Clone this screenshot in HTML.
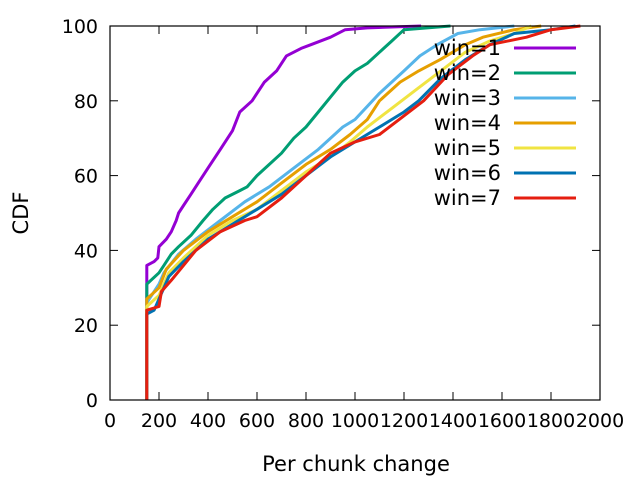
<!DOCTYPE html>
<html><head><meta charset="utf-8"><style>
body{margin:0;background:#fff}
svg{display:block;font-family:"DejaVu Sans","Liberation Sans",sans-serif}
</style></head><body>
<svg id="chart" width="640" height="480"></svg>
<script>
const xTicks=[0,200,400,600,800,1000,1200,1400,1600,1800,2000];
const yTicks=[0,20,40,60,80,100];
const seriesNames=["win=1","win=2","win=3","win=4","win=5","win=6","win=7"];
const colors=["#9400d3","#009e73","#56b4e9","#e69f00","#f0e442","#0072b2","#e51e10"];
const win1X=[150,150,180,195,200,230,250,270,280,300,330,360,400,450,500,530,580,600,630,680,720,780,820,900,960,1050,1270];
const win1Y=[0,36,37,38,41,43,45,48,50,52,55,58,62,67,72,77,80,82,85,88,92,94,95,97,99,99.5,100];
const win2X=[150,150,200,220,250,280,330,380,420,470,530,560,600,650,700,750,800,850,900,950,1000,1050,1100,1150,1200,1390];
const win2Y=[0,31,34,36,39,41,44,48,51,54,56,57,60,63,66,70,73,77,81,85,88,90,93,96,99,100];
const win3X=[150,150,200,220,280,350,450,550,650,750,850,950,1000,1100,1200,1265,1335,1420,1510,1650];
const win3Y=[0,26,31,34,39,43,48,53,57,62,67,73,75,82,88,92,95,98,99,100];
const win4X=[150,150,200,230,300,400,500,600,700,800,900,980,1050,1100,1184,1260,1347,1450,1522,1650,1760];
const win4Y=[0,27,30,35,40,45,49,53,58,63,67,71,75,80,85,88,91,95,97,99,100];
const win5X=[150,150,200,240,300,400,500,600,700,800,900,980,1050,1150,1250,1350,1450,1550,1650,1720];
const win5Y=[0,25,28,34,38,44,48,51,56,61,65,69,73,78,83,88,93,96,98,100];
const win6X=[150,150,180,200,240,300,400,500,600,700,800,900,1000,1100,1200,1260,1350,1450,1550,1650,1800,1900];
const win6Y=[0,23,24,27,33,37,43,47,51,55,60,65,69,73,77,80,86,91,95,98,99,100];
const win7X=[150,150,200,210,250,300,350,450,550,600,700,800,900,1000,1100,1200,1280,1380,1480,1550,1700,1800,1920];
const win7Y=[0,24,25,29,32,36,40,45,48,49,54,60,66,69,71,76,80,87,92,95,97,99,100];
const allX=[win1X,win2X,win3X,win4X,win5X,win6X,win7X];
const allY=[win1Y,win2Y,win3Y,win4Y,win5Y,win6Y,win7Y];

const L=110,R=600,T=26,B=400;
const sx=v=>L+(v-0)/(2000-0)*(R-L);
const sy=v=>B-(v-0)/(100-0)*(B-T);
const NS="http://www.w3.org/2000/svg";
const svg=document.getElementById('chart');
function mk(tag,attrs,parent){const e=document.createElementNS(NS,tag);for(const k in attrs)e.setAttribute(k,attrs[k]);(parent||svg).appendChild(e);return e;}

xTicks.forEach(t=>{
  const x=sx(t);
  const a=mk('line',{x1:x,y1:B,x2:x,y2:B-8,stroke:'#000'});
  
  
  const b=mk('line',{x1:x,y1:T,x2:x,y2:T+8,stroke:'#000'});
  
  
  const tx=mk('text',{x:x,y:B+27,'text-anchor':'middle','font-size':19});
  tx.textContent=t;
  
  
});
yTicks.forEach(t=>{
  const y=sy(t);
  const a=mk('line',{x1:L,y1:y,x2:L+8,y2:y,stroke:'#000'});
  
  
  const b=mk('line',{x1:R,y1:y,x2:R-8,y2:y,stroke:'#000'});
  
  
  const tx=mk('text',{x:L-12,y:y+7,'text-anchor':'end','font-size':19});
  tx.textContent=t;
  
  
});

allX.forEach((xs,i)=>{
  const pts=xs.map((v,j)=>sx(v).toFixed(1)+','+sy(allY[i][j]).toFixed(1)).join(' ');
  const p=mk('polyline',{points:pts,fill:'none',stroke:colors[i],'stroke-width':3,'stroke-linejoin':'round'});
  
  
});

const frame=mk('rect',{x:L,y:T,width:R-L,height:B-T,fill:'none',stroke:'#000','stroke-width':1.2});



seriesNames.forEach((n,i)=>{
  const y=48+i*25;
  const t=mk('text',{x:501,y:y+7,'text-anchor':'end','font-size':21});
  t.textContent=n;
  
  
  const l=mk('line',{x1:514,y1:y,x2:576,y2:y,stroke:colors[i],'stroke-width':3});
  
  
});

const xt=mk('text',{x:356,y:471,'text-anchor':'middle','font-size':21});
xt.textContent='Per chunk change';


const yt=mk('text',{x:28,y:213,'text-anchor':'middle','font-size':21,transform:'rotate(-90 28 213)'});
yt.textContent='CDF';


</script>
</body></html>
